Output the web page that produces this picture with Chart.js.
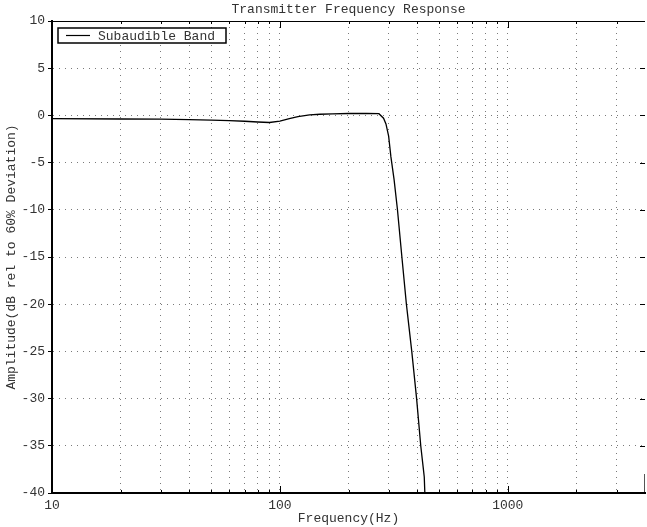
<!DOCTYPE html>
<html>
<head>
<meta charset="utf-8">
<script src="https://cdn.jsdelivr.net/npm/chart.js@4/dist/chart.umd.min.js"></script>
<style>
  html, body { margin: 0; padding: 0; background: #fff; }
  #wrap { width: 647px; height: 527px; }
</style>
</head>
<body>
<div id="wrap"><canvas id="freqChart" width="647" height="527"></canvas></div>
<script>
// Frequency response (Hz, dB)
const freqs = [10, 20, 30, 40, 50, 60, 70, 80, 90, 100, 110, 120, 135, 150, 170, 200, 240, 272, 285, 292, 300, 307, 317, 328, 343, 359, 379, 398, 415, 425, 430, 434, 3990, 4000];
const amps  = [-0.35, -0.38, -0.4, -0.45, -0.5, -0.55, -0.62, -0.7, -0.75, -0.6, -0.35, -0.12, 0.05, 0.12, 0.17, 0.2, 0.2, 0.18, -0.3, -0.9, -2.2, -4.4, -6.8, -10, -15, -20, -25, -30, -35, -37.2, -38.3, -41, -60, -38];

const xTicks = [10, 20, 30, 40, 50, 60, 70, 80, 90, 100, 200, 300, 400, 500, 600, 700, 800, 900, 1000, 2000, 3000];
const xLabels = [10, 100, 1000];
const yTicks = [10, 5, 0, -5, -10, -15, -20, -25, -30, -35, -40];

const FONT = "'Liberation Mono', 'Courier New', monospace";
const TEXT = '#333';
const GRID = '#7a7a7a';

// legend box, inward ticks on top/right and the thin top frame
const framePlugin = {
  id: 'frame',
  afterDatasetsDraw(chart) {
    const { ctx, chartArea: a, scales } = chart;
    const x = scales.x, y = scales.y;
    ctx.save();
    ctx.strokeStyle = '#000';
    ctx.lineWidth = 1;
    ctx.beginPath();
    ctx.moveTo(a.left, a.top + 0.5);
    ctx.lineTo(a.right, a.top + 0.5);
    xTicks.forEach(v => {
      const px = Math.round(x.getPixelForValue(v)) + 0.5;
      const len = xLabels.includes(v) ? 7 : 3;
      ctx.moveTo(px, a.top); ctx.lineTo(px, a.top + len);
      ctx.moveTo(px, a.bottom); ctx.lineTo(px, a.bottom - len);
    });
    yTicks.forEach(v => {
      const py = Math.round(y.getPixelForValue(v)) + 0.5;
      ctx.moveTo(a.right, py); ctx.lineTo(a.right - 5, py);
    });
    ctx.stroke();

    // legend
    const ds = chart.data.datasets[0];
    const lx = a.left + 6, ly = a.top + 7, lw = 168, lh = 15;
    ctx.fillStyle = '#fff';
    ctx.fillRect(lx, ly, lw, lh);
    ctx.lineWidth = 1.5;
    ctx.strokeRect(lx, ly, lw, lh);
    ctx.lineWidth = 1.2;
    ctx.beginPath();
    ctx.moveTo(lx + 8, ly + lh / 2);
    ctx.lineTo(lx + 32, ly + lh / 2);
    ctx.stroke();
    ctx.fillStyle = TEXT;
    ctx.font = '13px ' + FONT;
    ctx.textBaseline = 'middle';
    ctx.fillText(ds.label, lx + 40, ly + lh / 2 + 1);
    ctx.restore();
  }
};

new Chart(document.getElementById('freqChart'), {
  type: 'line',
  data: {
    datasets: [{
      label: 'Subaudible Band',
      data: freqs.map((f, i) => ({ x: f, y: amps[i] })),
      borderColor: '#000',
      borderWidth: 1.3,
      pointRadius: 0,
      tension: 0,
      fill: false
    }]
  },
  options: {
    responsive: false,
    animation: false,
    layout: { padding: { left: 0, right: 2, top: 0, bottom: 0 } },
    plugins: {
      legend: { display: false },
      tooltip: { enabled: false },
      title: {
        display: true,
        fullSize: false,
        text: 'Transmitter Frequency Response',
        color: TEXT,
        font: { family: FONT, size: 13, weight: 'normal' },
        padding: { top: 2, bottom: 3.4 }
      }
    },
    scales: {
      x: {
        type: 'logarithmic',
        min: 10,
        max: 4000,
        afterFit(s) { s.height = 34; },
        afterBuildTicks(s) { s.ticks = xTicks.map(v => ({ value: v })); },
        ticks: {
          autoSkip: false,
          maxRotation: 0,
          padding: 5,
          color: TEXT,
          font: { family: FONT, size: 13 },
          callback: v => xLabels.includes(v) ? String(v) : ''
        },
        grid: { color: GRID, lineWidth: 1, drawTicks: false },
        border: { color: '#000', width: 2, dash: [1, 5] },
        title: {
          display: true,
          text: 'Frequency(Hz)',
          color: TEXT,
          font: { family: FONT, size: 13 },
          padding: { top: 0, bottom: 1 }
        }
      },
      y: {
        min: -40,
        max: 10,
        afterFit(s) { s.width = 52; },
        afterBuildTicks(s) { s.ticks = yTicks.map(v => ({ value: v })); },
        ticks: {
          padding: 3,
          color: TEXT,
          font: { family: FONT, size: 13 }
        },
        grid: {
          color: GRID, lineWidth: 1,
          drawTicks: true, tickLength: 4, tickColor: '#000', tickBorderDash: []
        },
        border: { color: '#000', width: 2, dash: [1, 5] },
        title: {
          display: true,
          text: 'Amplitude(dB rel to 60% Deviation)',
          color: TEXT,
          font: { family: FONT, size: 13 },
          padding: { top: 4, bottom: 0 }
        }
      }
    }
  },
  plugins: [framePlugin]
});
</script>
</body>
</html>
